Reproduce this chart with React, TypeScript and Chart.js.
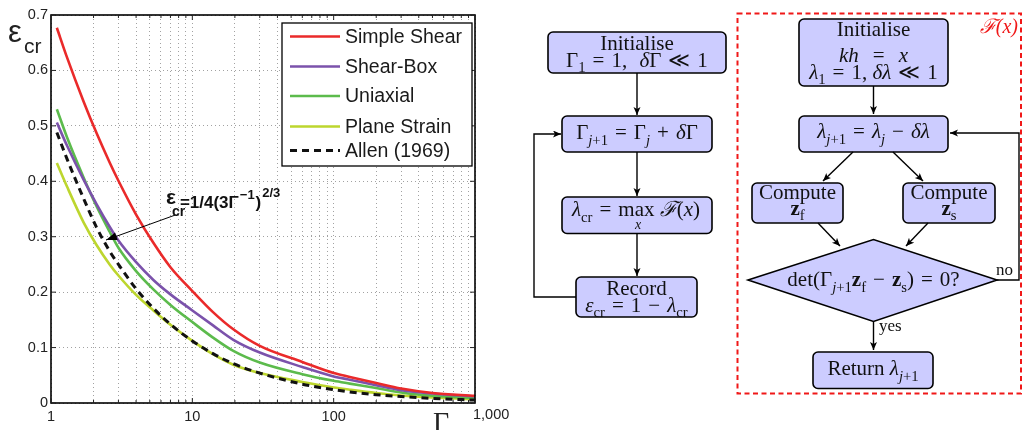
import React, { useEffect, useRef } from 'react';
import { Chart, registerables } from 'chart.js';

Chart.register(...registerables);

// ---------- data ----------
const gamma = [1.1, 1.3, 1.7, 2.1, 2.6, 3, 4, 5.3, 7, 10, 14, 19.5, 30, 60, 100, 130, 200, 300, 500, 1000];
const simpleShear = [0.677, 0.623, 0.544, 0.487, 0.434, 0.401, 0.34, 0.289, 0.245, 0.202, 0.164, 0.133, 0.103, 0.074, 0.054, 0.047, 0.036, 0.026, 0.018, 0.013];
const shearBox = [0.506, 0.464, 0.403, 0.359, 0.318, 0.293, 0.254, 0.222, 0.196, 0.167, 0.14, 0.114, 0.091, 0.065, 0.048, 0.042, 0.032, 0.023, 0.017, 0.012];
const uniaxial = [0.53, 0.479, 0.407, 0.355, 0.309, 0.28, 0.238, 0.205, 0.177, 0.146, 0.118, 0.094, 0.073, 0.052, 0.04, 0.035, 0.027, 0.019, 0.013, 0.009];
const planeStrain = [0.433, 0.39, 0.326, 0.285, 0.25, 0.23, 0.195, 0.167, 0.141, 0.112, 0.088, 0.069, 0.054, 0.038, 0.028, 0.024, 0.018, 0.0135, 0.01, 0.007];
const allen1969 = [0.488, 0.44, 0.369, 0.317, 0.274, 0.25, 0.206, 0.171, 0.142, 0.112, 0.089, 0.071, 0.054, 0.034, 0.024, 0.02, 0.015, 0.0116, 0.0083, 0.0052];

const seriesLabels = ['Simple Shear', 'Shear-Box', 'Uniaxial', 'Plane Strain', 'Allen (1969)'];
const seriesColors = ['#ea2a2a', '#7b52ab', '#5cbb4c', '#bdd62e', '#111111'];

const xGridTicks = [1, 2, 3, 4, 5, 6, 7, 8, 9, 10, 20, 30, 40, 50, 60, 70, 80, 90, 100, 200, 300, 400, 500, 600, 700, 800, 900, 1000];
const xMajorTicks = [1, 10, 100, 1000];
const xTickLabels: Record<number, string> = { 1: '1', 10: '10', 100: '100' };
const xEndLabel = '1,000';
const yTickValues = [0, 0.1, 0.2, 0.3, 0.4, 0.5, 0.6, 0.7];

// annotation (data coordinates)
const annotAnchor = { x: 6.5, y: 0.351 };
const arrowTail = { x: 7.55, y: 0.339 };
const arrowTip = { x: 2.45, y: 0.294 };

const SANS = '"Liberation Sans", Arial, sans-serif';
const SERIF = '"Liberation Serif", "Times New Roman", serif';

const decorPlugin = {
  id: 'decor',
  afterDatasetsDraw(chart: any) {
    const { ctx, chartArea: a, scales } = chart;
    const xs = scales.x;
    const ys = scales.y;
    ctx.save();
    const ln = (x1: number, y1: number, x2: number, y2: number) => {
      ctx.beginPath();
      ctx.moveTo(x1, y1);
      ctx.lineTo(x2, y2);
      ctx.stroke();
    };
    // frame
    ctx.setLineDash([]);
    ctx.strokeStyle = '#000';
    ctx.lineWidth = 1.6;
    ctx.strokeRect(a.left, a.top, a.right - a.left, a.bottom - a.top);
    // inward ticks
    ctx.lineWidth = 1;
    ctx.strokeStyle = '#222';
    for (const v of yTickValues) {
      const py = ys.getPixelForValue(v);
      ln(a.left, py, a.left + 5, py);
      ln(a.right, py, a.right - 5, py);
    }
    for (const v of xGridTicks) {
      const px = xs.getPixelForValue(v);
      const len = xMajorTicks.includes(v) ? 5 : 3;
      ln(px, a.bottom, px, a.bottom - len);
      ln(px, a.top, px, a.top + len);
    }
    // "1,000" label (left aligned at tick)
    ctx.fillStyle = '#222';
    ctx.font = `14.5px ${SANS}`;
    ctx.textAlign = 'left';
    ctx.textBaseline = 'middle';
    ctx.fillText(xEndLabel, xs.getPixelForValue(1000) - 2, a.bottom + 12);
    // Gamma axis title
    ctx.font = `28px ${SERIF}`;
    ctx.textAlign = 'center';
    ctx.textBaseline = 'alphabetic';
    ctx.fillText('Γ', 441, 431);
    // epsilon_cr axis title
    ctx.textAlign = 'left';
    ctx.font = `31px ${SANS}`;
    ctx.fillText('ε', 8, 42);
    ctx.font = `21px ${SANS}`;
    ctx.fillText('cr', 24, 53);

    // annotation arrow
    const tx = xs.getPixelForValue(arrowTail.x), ty = ys.getPixelForValue(arrowTail.y);
    const hx = xs.getPixelForValue(arrowTip.x), hy = ys.getPixelForValue(arrowTip.y);
    ctx.strokeStyle = '#000';
    ctx.lineWidth = 1;
    ln(tx, ty, hx, hy);
    const ang = Math.atan2(hy - ty, hx - tx);
    ctx.fillStyle = '#000';
    ctx.beginPath();
    ctx.moveTo(hx, hy);
    ctx.lineTo(hx - 11 * Math.cos(ang) + 4 * Math.sin(ang), hy - 11 * Math.sin(ang) - 4 * Math.cos(ang));
    ctx.lineTo(hx - 11 * Math.cos(ang) - 4 * Math.sin(ang), hy - 11 * Math.sin(ang) + 4 * Math.cos(ang));
    ctx.closePath();
    ctx.fill();

    // annotation text
    const ax = xs.getPixelForValue(annotAnchor.x);
    const ay = ys.getPixelForValue(annotAnchor.y);
    ctx.fillStyle = '#111';
    ctx.textAlign = 'left';
    ctx.font = `bold 21px ${SANS}`;
    ctx.fillText('ε', ax, ay - 4);
    ctx.font = `bold 14px ${SANS}`;
    ctx.fillText('cr', ax + 6, ay + 8);
    let cx = ax + 14;
    ctx.font = `bold 17px ${SANS}`;
    ctx.fillText('=1/4(3Γ', cx, ay);
    cx += ctx.measureText('=1/4(3Γ').width + 1;
    ctx.font = `bold 13px ${SANS}`;
    ctx.fillText('−1', cx, ay - 9);
    cx += ctx.measureText('−1').width + 1;
    ctx.font = `bold 17px ${SANS}`;
    ctx.fillText(')', cx, ay);
    cx += ctx.measureText(')').width + 1;
    ctx.font = `bold 13px ${SANS}`;
    ctx.fillText('2/3', cx, ay - 11);

    // legend
    const lw = 190, lh = 143;
    const lx = a.right - 3 - lw, ly = a.top + 8;
    ctx.fillStyle = '#fff';
    ctx.fillRect(lx, ly, lw, lh);
    ctx.strokeStyle = '#000';
    ctx.lineWidth = 1.3;
    ctx.strokeRect(lx, ly, lw, lh);
    const rows = [13.5, 43.5, 73, 103.5, 127.5];
    chart.data.datasets.forEach((ds: any, i: number) => {
      const ry = ly + rows[i];
      ctx.strokeStyle = ds.borderColor;
      ctx.lineWidth = ds.borderWidth;
      ctx.setLineDash(ds.borderDash || []);
      ln(lx + 8, ry, lx + 58, ry);
      ctx.setLineDash([]);
      ctx.fillStyle = '#1a1a1a';
      ctx.font = `19.5px ${SANS}`;
      ctx.textBaseline = 'middle';
      ctx.fillText(ds.label, lx + 63, ry + 1);
    });
    ctx.restore();
  },
};

// ---------- flowchart helpers ----------
type Seg = { t: string; it?: boolean; b?: boolean; sub?: boolean };
const n = (t: string): Seg => ({ t });
const it = (t: string): Seg => ({ t, it: true });
const bd = (t: string): Seg => ({ t, b: true });
const sb = (t: string): Seg => ({ t, sub: true });
const si = (t: string): Seg => ({ t, it: true, sub: true });
const S = '\u2004'; // math spacing around relations / operators

function MT({ x, y, segs, size = 21, fill = '#111', anchor = 'middle' }: { x: number; y: number; segs: Seg[]; size?: number; fill?: string; anchor?: string }) {
  let cur = 0;
  return (
    <text x={x} y={y} textAnchor={anchor as any} fontSize={size} fontFamily={SERIF} fill={fill} style={{ whiteSpace: 'pre' }}>
      {segs.map((s, i) => {
        const shift = s.sub ? size * 0.28 : 0;
        const dy = shift - cur;
        cur = shift;
        return (
          <tspan key={i} dy={dy} fontStyle={s.it ? 'italic' : 'normal'} fontWeight={s.b ? 'bold' : 'normal'} fontSize={s.sub ? size * 0.7 : size}>
            {s.t}
          </tspan>
        );
      })}
    </text>
  );
}

const BOX_FILL = '#ccccff';

function Box({ x, y, w, h }: { x: number; y: number; w: number; h: number }) {
  return <rect x={x} y={y} width={w} height={h} rx={5} ry={5} fill={BOX_FILL} stroke="#000" strokeWidth={1.6} />;
}

function Arrow({ pts }: { pts: number[][] }) {
  return <polyline points={pts.map((p) => p.join(',')).join(' ')} fill="none" stroke="#000" strokeWidth={1.4} markerEnd="url(#ah)" />;
}

export default function App() {
  const ref = useRef<HTMLCanvasElement>(null);
  useEffect(() => {
    const mk = (label: string, data: number[], i: number, extra: any = {}) => ({
      label,
      data: gamma.map((g, k) => ({ x: g, y: data[k] })),
      borderColor: seriesColors[i],
      backgroundColor: seriesColors[i],
      borderWidth: 2.6,
      pointRadius: 0,
      fill: false,
      cubicInterpolationMode: 'monotone',
      order: i + 1,
      ...extra,
    });
    const gridCommon = {
      color: 'rgba(70,70,70,0.5)',
      lineWidth: 1,
      drawTicks: false,
      borderDash: [1, 3],
    };
    const chart = new Chart(ref.current as HTMLCanvasElement, {
      type: 'line',
      data: {
        datasets: [
          mk(seriesLabels[0], simpleShear, 0),
          mk(seriesLabels[1], shearBox, 1),
          mk(seriesLabels[2], uniaxial, 2),
          mk(seriesLabels[3], planeStrain, 3),
          mk(seriesLabels[4], allen1969, 4, { borderDash: [7, 5], borderWidth: 3, order: 0 }),
        ],
      } as any,
      options: {
        animation: false,
        responsive: false,
        maintainAspectRatio: false,
        events: [],
        layout: { padding: { top: 15, right: 45, left: 0, bottom: 0 } },
        plugins: { legend: { display: false }, tooltip: { enabled: false } },
        scales: {
          x: {
            type: 'logarithmic',
            min: 1,
            max: 1000,
            afterBuildTicks: (s: any) => {
              s.ticks = xGridTicks.map((v) => ({ value: v, major: xMajorTicks.includes(v) }));
            },
            afterFit: (s: any) => {
              s.height = 27;
            },
            ticks: {
              autoSkip: false,
              maxRotation: 0,
              minRotation: 0,
              padding: 5,
              color: '#222',
              font: { family: SANS, size: 14.5 },
              callback: (v: any) => xTickLabels[Number(v)] ?? '',
            },
            grid: gridCommon,
            border: { display: false, dash: [1, 3] },
          },
          y: {
            min: 0,
            max: 0.7,
            afterFit: (s: any) => {
              s.width = 51;
            },
            ticks: {
              stepSize: 0.1,
              padding: 3,
              color: '#222',
              font: { family: SANS, size: 14.5 },
              callback: (v: any) => (Number(v) === 0 ? '0' : Number(v).toFixed(1)),
            },
            grid: gridCommon,
            border: { display: false, dash: [1, 3] },
          },
        },
      } as any,
      plugins: [decorPlugin],
    });
    return () => chart.destroy();
  }, []);

  return (
    <div style={{ position: 'fixed', left: 0, top: 0, width: 1022, height: 430, background: '#fff', overflow: 'hidden' }}>
      <canvas ref={ref} width={520} height={430} style={{ position: 'absolute', left: 0, top: 0, width: 520, height: 430 }} />
      <svg width={1022} height={430} style={{ position: 'absolute', left: 0, top: 0 }}>
        <defs>
          <marker id="ah" markerUnits="userSpaceOnUse" markerWidth={9} markerHeight={8} refX={8} refY={3.5} orient="auto">
            <path d="M0,0 L8,3.5 L0,7 L2,3.5 z" fill="#000" />
          </marker>
        </defs>

        {/* left loop */}
        <Box x={548} y={32} w={178} h={41} />
        <MT x={637} y={50} segs={[n('Initialise')]} />
        <MT x={637} y={66.5} segs={[n('Γ'), sb('1'), n(`${S}=${S}1,${S} `), it('δ'), n(`Γ${S}≪${S}1`)]} />
        <Arrow pts={[[637, 73], [637, 115]]} />

        <Box x={562} y={116} w={150} h={36} />
        <MT x={637} y={139} segs={[n('Γ'), si('j'), sb('+1'), n(`${S}=${S}Γ`), si('j'), n(`${S}+${S}`), it('δ'), n('Γ')]} />
        <Arrow pts={[[637, 152], [637, 196]]} />

        <Box x={562} y={197} w={150} h={36.5} />
        <MT x={636} y={216} segs={[it('λ'), sb('cr'), n(`${S}=${S}max `), it('ℱ'), n('('), it('x'), n(')')]} />
        <text x={638} y={229} fontSize={14} fontStyle="italic" fontFamily={SERIF} textAnchor="middle" fill="#111">x</text>
        <Arrow pts={[[637, 233.5], [637, 276]]} />

        <Box x={576} y={277} w={121} h={40} />
        <MT x={636.5} y={295} segs={[n('Record')]} />
        <MT x={636.5} y={311.5} segs={[it('ε'), sb('cr'), n(`${S}=${S}1${S}−${S}`), it('λ'), sb('cr')]} />
        <Arrow pts={[[576, 297], [534, 297], [534, 134], [561, 134]]} />

        {/* red dashed frame */}
        <rect x={737.5} y={13.5} width={283.5} height={380} fill="none" stroke="#f01818" strokeWidth={2} strokeDasharray="5 3.5" />
        <text x={1018} y={33} fontSize={20} fontStyle="italic" fontFamily={SERIF} textAnchor="end" fill="#f01818">ℱ(x)</text>

        <Box x={799} y={19} w={149} h={67} />
        <MT x={873.5} y={35.5} segs={[n('Initialise')]} />
        <MT x={873.5} y={62} segs={[it('kh'), n(`${S}${S}=${S}${S}`), it('x')]} />
        <MT x={873.5} y={78.5} segs={[it('λ'), sb('1'), n(`${S}=${S}1, `), it('δλ'), n(`${S}≪${S}1`)]} />
        <Arrow pts={[[873.5, 86], [873.5, 114]]} />

        <Box x={799} y={116} w={149} h={36} />
        <MT x={873.5} y={138} segs={[it('λ'), si('j'), sb('+1'), n(`${S}=${S}`), it('λ'), si('j'), n(`${S}−${S}`), it('δλ')]} />
        <Arrow pts={[[853, 152], [823, 181]]} />
        <Arrow pts={[[893, 152], [923, 181]]} />

        <Box x={752} y={183} w={91} h={40} />
        <MT x={797.5} y={199} segs={[n('Compute')]} />
        <MT x={797.5} y={214.5} segs={[bd('z'), sb('f')]} />
        <Box x={903} y={183} w={92} h={40} />
        <MT x={949} y={199} segs={[n('Compute')]} />
        <MT x={949} y={214.5} segs={[bd('z'), sb('s')]} />
        <Arrow pts={[[818, 223], [840, 246]]} />
        <Arrow pts={[[928, 223], [906, 246]]} />

        <polygon points="748,280 873.5,239.5 997,280 873.5,321.5" fill={BOX_FILL} stroke="#000" strokeWidth={1.6} strokeLinejoin="miter" />
        <MT x={873.5} y={286} segs={[n('det(Γ'), si('j'), sb('+1'), bd('z'), sb('f'), n(`${S}−${S}`), bd('z'), sb('s'), n(`)${S}=${S}0?`)]} />
        <Arrow pts={[[997, 280], [1019, 280], [1019, 133], [950, 133]]} />
        <text x={996} y={275} fontSize={17} fontFamily={SERIF} fill="#111">no</text>

        <Arrow pts={[[873.5, 322], [873.5, 350]]} />
        <text x={879} y={331} fontSize={17} fontFamily={SERIF} fill="#111">yes</text>

        <Box x={813} y={352} w={120} h={36.5} />
        <MT x={873} y={375} segs={[n('Return '), it('λ'), si('j'), sb('+1')]} />
      </svg>
    </div>
  );
}
